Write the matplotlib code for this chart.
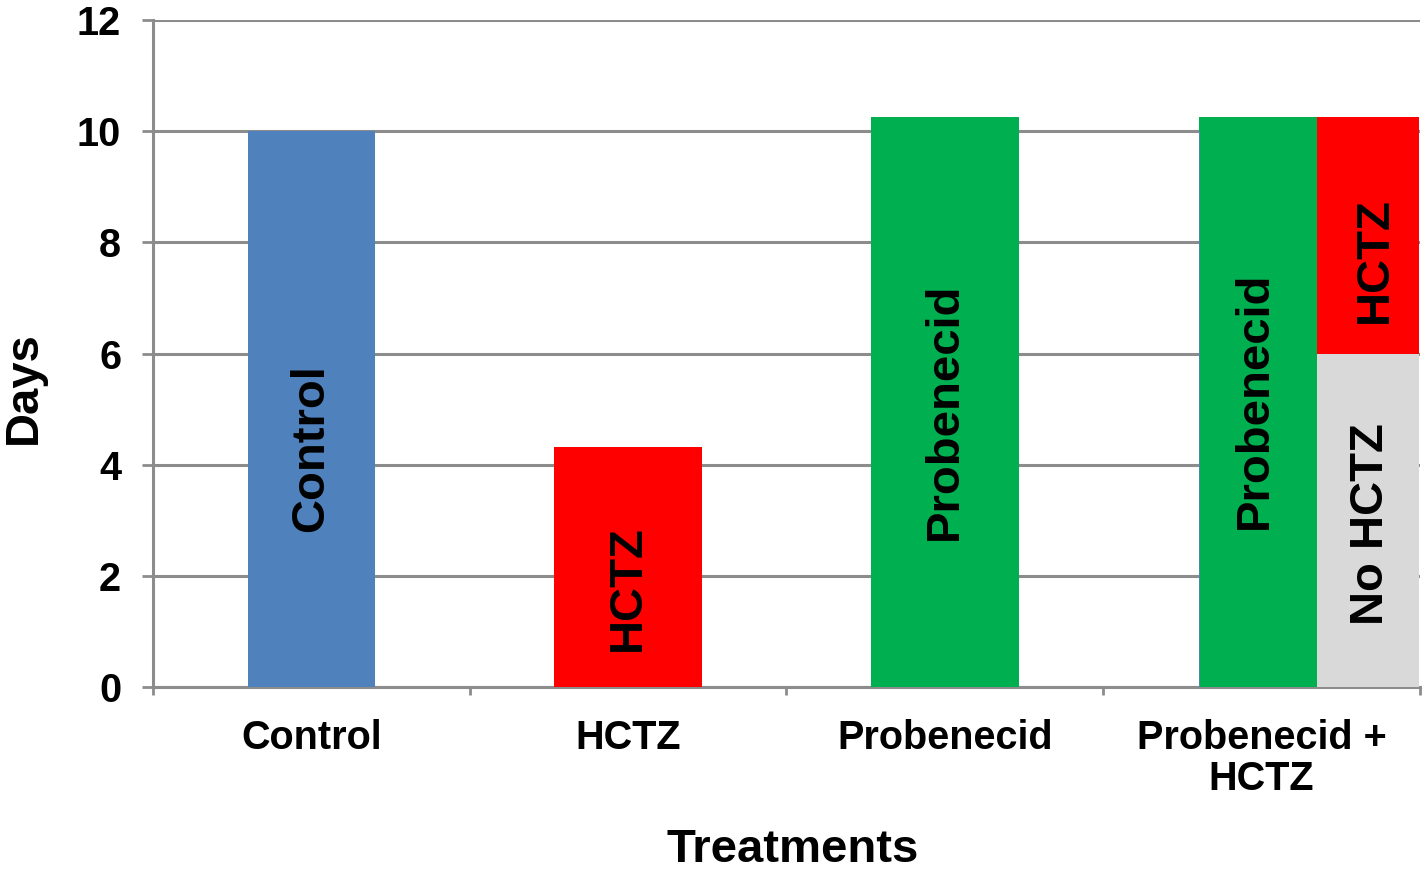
import matplotlib
matplotlib.use("Agg")
import matplotlib.pyplot as plt
import numpy as np

plt.rcParams['font.family'] = ['Liberation Sans', 'DejaVu Sans']
plt.rcParams['font.weight'] = 'bold'

# ---- data ----
categories = ["Control", "HCTZ", "Probenecid", "Probenecid +\nHCTZ"]
control_days = [10.0]
hctz_days = [4.32]
probenecid_days = [10.25]
combo_probenecid_days = [10.25]
combo_no_hctz_days = [6.0]
combo_hctz_days = [4.25]   # stacked on top of no-HCTZ portion (total 10.25)
y_ticks = [0, 2, 4, 6, 8, 10, 12]

# in-bar labels (text, y-centre in data units)
label_y = {"Control": 4.29, "HCTZ": 1.78, "Probenecid": 4.96,
           "comboProb": 5.15, "comboHCTZ": 7.68, "comboNo": 2.93}

blue = "#4F81BD"
red = "#FF0000"
green = "#00B050"
gray = "#D9D9D9"
gridc = "#8C8C8C"

fig = plt.figure(figsize=(14.28, 8.72), dpi=100)
ax = fig.add_axes([153/1428, 1-687/872, (1420-153)/1428, (687-20)/872])

x = np.arange(len(categories))

ax.bar(x[0], control_days, width=0.40, color=blue, zorder=3)
ax.bar(x[1], hctz_days, width=0.467, color=red, zorder=3)
ax.bar(x[2], probenecid_days, width=0.467, color=green, zorder=3)

# combined group: green bar then stacked gray/red bar
gw = 0.372
sw = 0.322
gl = x[3] - 0.197
ax.bar(gl, combo_probenecid_days, width=gw, align='edge', color=green, zorder=3)
ax.bar(gl, control_days, width=0.004, align='edge', color=blue, zorder=3)
sl = gl + gw
ax.bar(sl, combo_no_hctz_days, width=sw, align='edge', color=gray, zorder=3)
ax.bar(sl, combo_hctz_days, width=sw, align='edge', bottom=combo_no_hctz_days,
       color=red, zorder=3)

fs_in = 34
kw = dict(rotation=90, ha='center', va='center', fontsize=fs_in, fontweight='bold',
          color='black', zorder=5)
ax.text(x[0], label_y["Control"], "Control", **kw)
ax.text(x[1], label_y["HCTZ"], "HCTZ", **kw)
ax.text(x[2], label_y["Probenecid"], "Probenecid", **kw)
ax.text(gl + gw/2 - 0.01, label_y["comboProb"], "Probenecid", **kw)
ax.text(sl + sw/2 + 0.02, label_y["comboHCTZ"], "HCTZ", **kw)
ax.text(sl + sw/2 + 0.01, label_y["comboNo"], "No HCTZ", **kw)

ax.set_xlim(-0.5, 3.5)
ax.set_ylim(0, 12)
ax.set_yticks(y_ticks)
ax.set_yticklabels([str(v) for v in y_ticks], fontsize=28.5, fontweight='bold')
ax.set_xticks(x)
ax.set_xticklabels(categories, fontsize=28.5, fontweight='bold', linespacing=1.1)
ax.set_xticks(np.arange(-0.5, 3.6, 1.0), minor=True)
ax.tick_params(axis='x', which='major', length=0, pad=23)
ax.tick_params(axis='x', which='minor', length=6, width=2, color=gridc, direction='out')
ax.tick_params(axis='y', which='major', length=8, width=2, color=gridc, pad=15)

ax.yaxis.grid(True, color=gridc, linewidth=2.2, zorder=0)
ax.set_axisbelow(True)
for s in ['top', 'right']:
    ax.spines[s].set_visible(False)
for s in ['left', 'bottom']:
    ax.spines[s].set_color(gridc)
    ax.spines[s].set_linewidth(2.2)

fig.text(24/1428, 1-387.5/872, "Days", rotation=90, ha='center', va='center',
         fontsize=34, fontweight='bold')
fig.text(793/1428, 1-862/872, "Treatments", ha='center', va='baseline',
         fontsize=34, fontweight='bold')

fig.savefig("out.png", dpi=100, facecolor='white')
